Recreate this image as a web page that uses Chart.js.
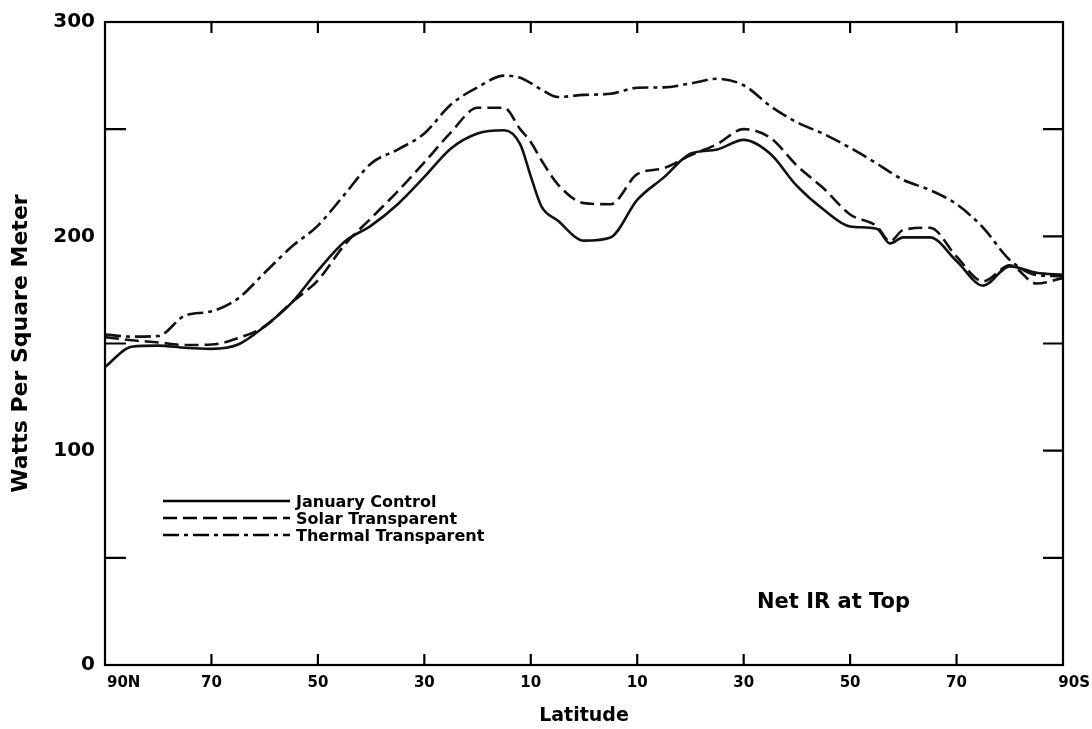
<!DOCTYPE html>
<html lang="en">
<head>
<meta charset="UTF-8">
<title>Net IR at Top</title>
<script src="https://cdn.jsdelivr.net/npm/chart.js"></script>
<style>
  html, body { margin: 0; padding: 0; background: #fff; }
</style>
</head>
<body>
<canvas id="myChart" width="1092" height="729"></canvas>
<script>
// latitude grid, north positive
const latitudes = [90, 85, 80, 75, 70, 65, 60, 55, 50, 45, 40, 35, 30, 25, 20, 15, 12, 10, 8, 5,
  0, -5, -10, -15, -20, -25, -30, -35, -40, -45, -50, -55, -57.5, -60, -65, -70, -75, -80, -85, -90];

// net IR at top, W/m2
const januaryControl = [139, 148.5, 149, 148, 147.5, 149.5, 158, 168.8, 184, 197.5, 205, 215, 227.7, 241, 248, 249.5, 243, 228, 214, 207.5,
  198, 199.5, 217, 227.5, 238.5, 240.5, 245, 238.5, 223.5, 212.5, 204.6, 203.5, 196.7, 199.5, 199.5, 188.5, 177, 186, 183, 182];
const solarTransparent = [153, 151.5, 150.5, 149.3, 149.5, 152.5, 158, 169, 179.5, 196, 208.5, 221, 234.5, 248.5, 260, 260, 250, 244, 235.5, 224.5,
  215.5, 215, 229, 231.8, 237.8, 243, 250, 246, 233, 222.4, 210.2, 204.7, 197.7, 203, 204, 190.5, 179, 186.5, 178, 180.5];
const thermalTransparent = [154.2, 153.2, 153.5, 163, 165, 171, 183, 195, 205, 219.5, 234, 240.5, 248, 261.5, 269.5, 275, 274, 271.5, 268.5, 265,
  266, 266.5, 269.3, 269.5, 271.3, 273.5, 270.5, 260.8, 253.2, 247.8, 241.3, 234, 230, 226.3, 221.6, 215, 204, 189, 182, 181.4];

const xTicks = [90, 70, 50, 30, 10, -10, -30, -50, -70, -90];
const xTickLabels = ['90N', '70', '50', '30', '10', '10', '30', '50', '70', '90S'];
const yLabelled = [0, 100, 200, 300];
const yLeftMarks = [50, 150, 250];
const yRightMarks = [50, 100, 150, 200, 250];

const FONT = 'DejaVu Sans';

function series(values) {
  return latitudes.map((lat, i) => ({ x: lat, y: values[i] }));
}

// frame, inward tick marks, x labels, legend and caption
const framePlugin = {
  id: 'frame',
  afterDraw(chart) {
    const { ctx, chartArea: a, scales: { x, y } } = chart;
    ctx.save();
    ctx.strokeStyle = '#000';
    ctx.lineWidth = 2.2;
    ctx.setLineDash([]);
    ctx.strokeRect(a.left, a.top, a.right - a.left, a.bottom - a.top);

    ctx.beginPath();
    yLeftMarks.forEach(v => {
      const py = y.getPixelForValue(v);
      ctx.moveTo(a.left, py); ctx.lineTo(a.left + 21, py);
    });
    yRightMarks.forEach(v => {
      const py = y.getPixelForValue(v);
      ctx.moveTo(a.right - 20, py); ctx.lineTo(a.right, py);
    });
    xTicks.slice(1, -1).forEach(v => {
      const px = x.getPixelForValue(v);
      ctx.moveTo(px, a.bottom); ctx.lineTo(px, a.bottom - 11);
      ctx.moveTo(px, a.top); ctx.lineTo(px, a.top + 11);
    });
    ctx.stroke();

    // x tick labels; the pole labels hang inside the page edges
    ctx.fillStyle = '#000';
    ctx.font = 'bold 15px "' + FONT + '"';
    ctx.textBaseline = 'middle';
    xTicks.forEach((v, i) => {
      const px = x.getPixelForValue(v);
      let align = 'center', tx = px;
      if (i === 0) { align = 'left'; tx = px + 2; }
      if (i === xTicks.length - 1) { align = 'right'; tx = chart.width - 2; }
      ctx.textAlign = align;
      ctx.fillText(xTickLabels[i], tx, a.bottom + 18);
    });

    // legend
    ctx.font = 'bold 16px "' + FONT + '"';
    ctx.textAlign = 'left';
    chart.data.datasets.forEach((ds, i) => {
      const ly = 501 + i * 17;
      ctx.beginPath();
      ctx.lineWidth = ds.borderWidth;
      ctx.setLineDash(ds.borderDash || []);
      ctx.moveTo(163, ly); ctx.lineTo(290, ly);
      ctx.stroke();
      ctx.fillText(ds.label, 296, ly + 2);
    });
    ctx.setLineDash([]);

    ctx.font = 'bold 21px "' + FONT + '"';
    ctx.fillText('Net IR at Top', 757, 603);
    ctx.restore();
  }
};

const ctx = document.getElementById('myChart').getContext('2d');
new Chart(ctx, {
  type: 'line',
  data: {
    datasets: [
      { label: 'January Control', data: series(januaryControl), borderColor: '#111', borderWidth: 2.6, borderDash: [] },
      { label: 'Solar Transparent', data: series(solarTransparent), borderColor: '#111', borderWidth: 2.6, borderDash: [14, 6] },
      { label: 'Thermal Transparent', data: series(thermalTransparent), borderColor: '#111', borderWidth: 2.6, borderDash: [16, 5, 4, 5] }
    ]
  },
  options: {
    responsive: false,
    animation: false,
    layout: { padding: { left: 0, right: 29, top: 20, bottom: 0 } },
    plugins: { legend: { display: false }, tooltip: { enabled: false } },
    elements: {
      point: { radius: 0 },
      line: { cubicInterpolationMode: 'monotone', fill: false }
    },
    scales: {
      x: {
        type: 'linear', reverse: true, min: -90, max: 90,
        grid: { display: false, drawTicks: false },
        border: { display: false },
        ticks: { display: false },
        title: { display: true, text: 'Latitude', color: '#000', font: { family: FONT, size: 19, weight: 'bold' }, padding: { top: 0, bottom: 2 } },
        afterFit: s => { s.height = 64; }
      },
      y: {
        min: 0, max: 300,
        grid: { display: false, drawTicks: false },
        border: { display: false },
        ticks: {
          stepSize: 50, padding: 10, color: '#000',
          font: { family: FONT, size: 20, weight: 'bold' },
          callback: v => yLabelled.includes(v) ? v : ''
        },
        title: { display: true, text: 'Watts Per Square Meter', color: '#000', font: { family: FONT, size: 22, weight: 'bold' }, padding: { top: 8, bottom: 0 } },
        afterFit: s => { s.width = 105; }
      }
    }
  },
  plugins: [framePlugin]
});
</script>
</body>
</html>
